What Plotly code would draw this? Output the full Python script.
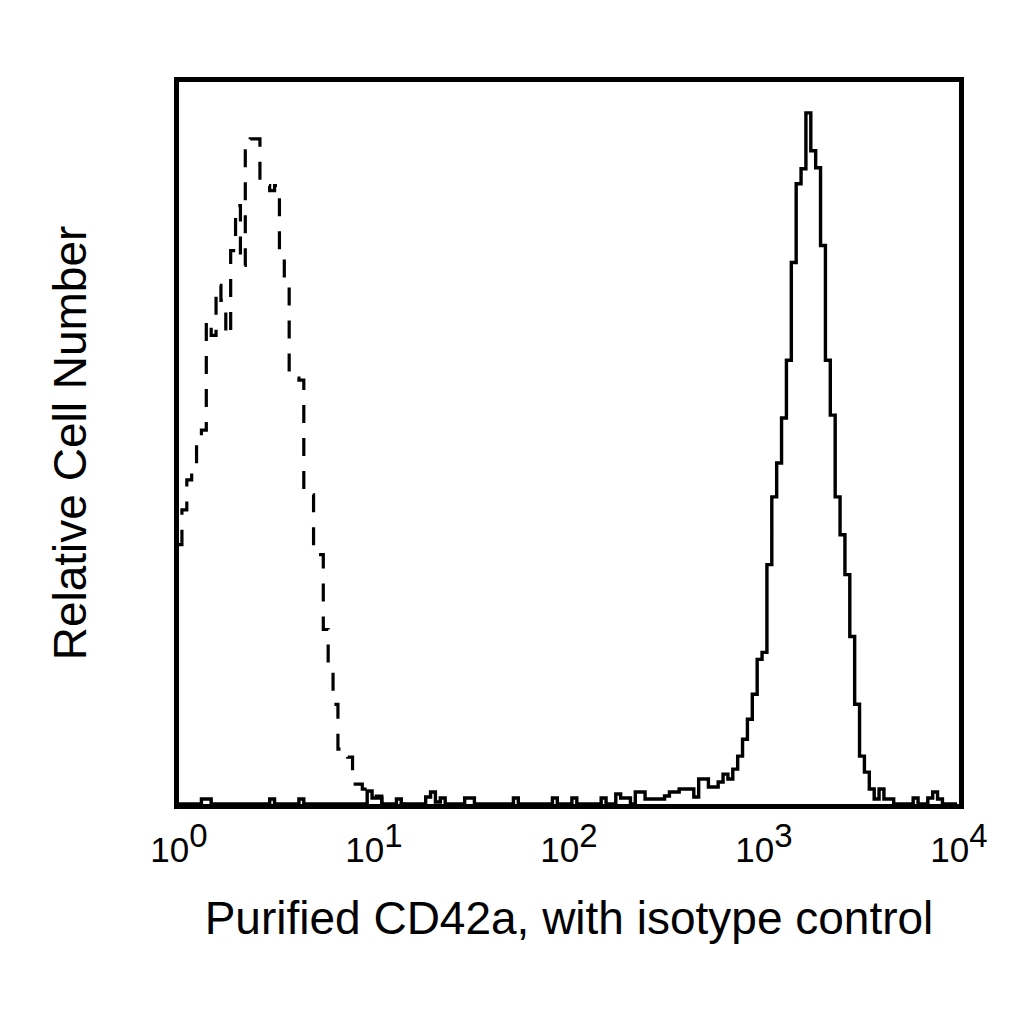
import plotly.graph_objects as go

# Channel grid: 40 channels per decade, first full channel starts 0.6 channel above 10^0
CHANNELS_PER_DECADE = 40
CHANNEL_OFFSET = 0.6
X_MIN_LOG, X_MAX_LOG = 0, 4

# CD42a (solid) counts, channels k = -1 .. 158 (k=-1 is the partial channel at the left edge)
cd42a_counts = [
    0,
    0, 0, 0, 0, 5, 5, 0, 0, 0, 0,
    0, 0, 0, 0, 0, 0, 0, 0, 5, 0,
    0, 0, 0, 0, 5, 0, 0, 0, 0, 0,
    0, 0, 0, 0, 0, 0, 0, 0, 13, 6,
    6, 0, 0, 0, 5, 0, 0, 0, 0, 0,
    7, 12, 2, 6, 0, 0, 0, 0, 6, 6,
    0, 0, 0, 0, 0, 0, 0, 0, 6, 0,
    0, 0, 0, 0, 0, 0, 6, 0, 0, 0,
    6, 0, 0, 0, 0, 0, 6, 0, 0, 10,
    6, 6, 0, 12, 12, 5, 5, 5, 5, 8,
    12, 12, 15, 15, 15, 7, 25, 25, 17, 17,
    22, 30, 25, 35, 48, 65, 85, 110, 145, 152,
    240, 308, 342, 387, 445, 543, 622, 637, 693, 655,
    638, 560, 445, 390, 308, 270, 230, 168, 100, 48,
    32, 15, 5, 15, 5, 5, 0, 0, 0, 0,
    6, 0, 0, 6, 12, 5, 0, 0, 0,
]

# Isotype control (dashed) counts, channels k = -1 .. 45
isotype_counts = [
    260,
    295, 325, 335, 368, 375, 485, 470, 520, 505, 470,
    555, 600, 540, 655, 667, 667, 625, 620, 615, 620,
    555, 520, 430, 427, 425, 315, 310, 255, 250, 175,
    140, 100, 55, 50, 47, 20, 20, 15, 10, 8,
    8, 0, 0, 0, 0, 0,
]

Y_MAX = 724

tick_vals = [1, 10, 100, 1000, 10000]
tick_text = ["10<sup><span style='font-size:33px'>%d</span></sup>" % e for e in range(5)]

x_title = "Purified CD42a, with isotype control"
y_title = "Relative Cell Number"


def step_xy(counts):
    xs, ys = [], []
    n = len(counts)
    for i, c in enumerate(counts):
        k = i - 1
        left_log = max(X_MIN_LOG, (k + CHANNEL_OFFSET) / CHANNELS_PER_DECADE)
        xs.append(10 ** left_log)
        ys.append(c)
    last_right = min(X_MAX_LOG, (n - 1 + CHANNEL_OFFSET) / CHANNELS_PER_DECADE)
    xs.append(10 ** last_right)
    ys.append(counts[-1])
    return xs, ys


fig = go.Figure()
ix, iy = step_xy(isotype_counts)
fig.add_trace(go.Scatter(x=ix, y=iy, mode="lines", line_shape="hv",
                         line=dict(color="black", width=3.2, dash="18px,15px"),
                         name="Isotype control", showlegend=False))
sx, sy = step_xy(cd42a_counts)
fig.add_trace(go.Scatter(x=sx, y=sy, mode="lines", line_shape="hv",
                         line=dict(color="black", width=3.4),
                         name="CD42a", showlegend=False))

FONT = "Liberation Sans, Arial, sans-serif"
fig.update_layout(
    width=1024, height=1024,
    margin=dict(l=171, r=73, t=74, b=228),
    paper_bgcolor="white", plot_bgcolor="white",
    font=dict(family=FONT, color="black"),
    xaxis=dict(type="log", range=[X_MIN_LOG, X_MAX_LOG],
               tickvals=tick_vals, ticktext=tick_text,
               tickfont=dict(size=35, family=FONT, color="black"),
               ticks="", ticklabelstandoff=11, showgrid=False, zeroline=False,
               showline=True, linecolor="black", linewidth=5, mirror=True,
               title=dict(text=x_title, font=dict(size=46, family=FONT, color="black"), standoff=35),
               automargin=False),
    yaxis=dict(range=[0, Y_MAX], showticklabels=False, ticks="", showgrid=False,
               zeroline=False, showline=True, linecolor="black", linewidth=5, mirror=True,
               title=dict(text=y_title, font=dict(size=46, family=FONT, color="black"), standoff=74),
               automargin=False),
)

fig.write_html("out.html")
